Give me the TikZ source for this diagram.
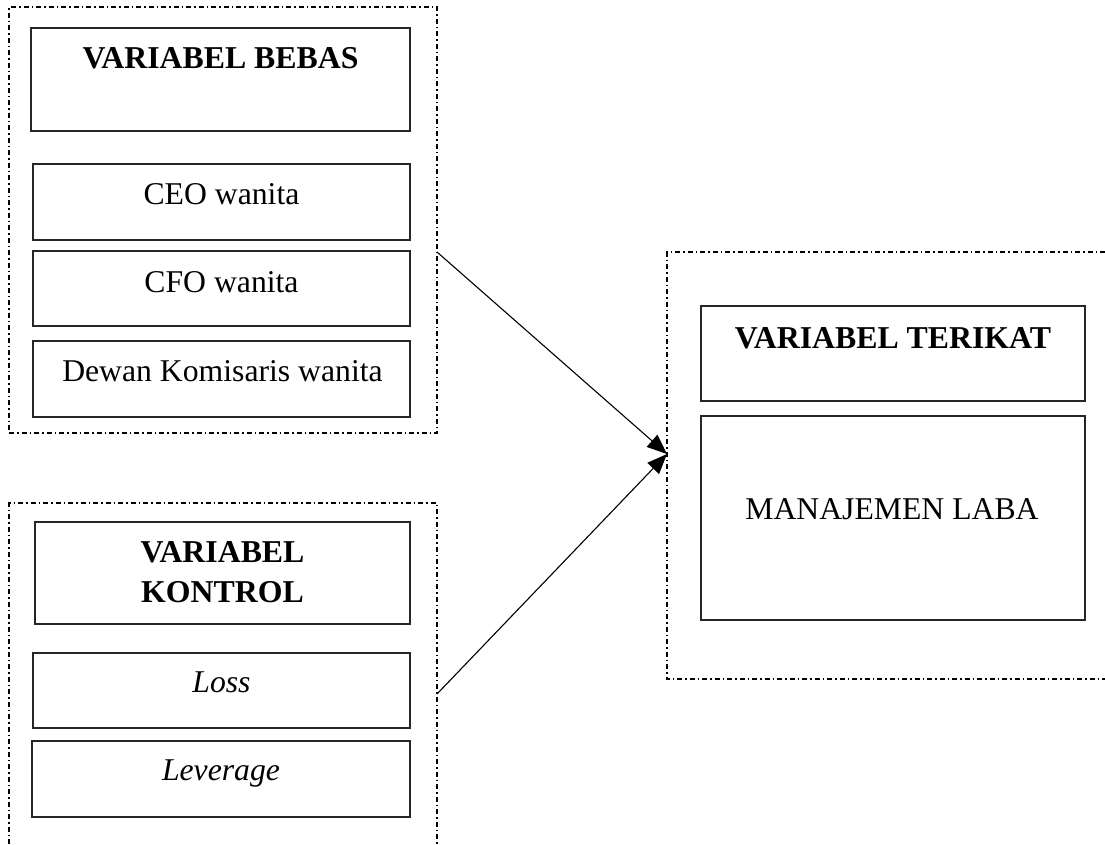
\documentclass[tikz,border=0pt]{standalone}
\usepackage{fontspec}
\setmainfont{Liberation Serif}
\usetikzlibrary{arrows.meta,fit}
\begin{document}
\begin{tikzpicture}[x=1pt,y=-1pt,
  solidbox/.style={draw=black!85, line width=1.2pt, inner sep=0pt, outer sep=0pt},
  dashbox/.style={draw=black, line width=1.1pt, dash pattern=on 5pt off 3pt on 1.5pt off 3pt},
  lbl/.style={anchor=base, inner sep=0pt, font=\fontsize{31.7}{40}\selectfont},
  blbl/.style={anchor=base, inner sep=0pt, font=\fontsize{31.8}{40}\selectfont\bfseries},
  ilbl/.style={anchor=base, inner sep=0pt, font=\fontsize{31.7}{40}\selectfont\itshape},
  conn/.style={draw=black, line width=1.1pt, -{Triangle[length=20pt,width=16pt]}}]
\useasboundingbox[fill=white] (0,0) rectangle (1105,844);

% outer dash-dot groups
\node[dashbox, inner sep=0pt, outer sep=0pt, fit={(9,7) (437,433)}] (outer1) {};
\coordinate (o2a) at (9,844);
\coordinate (o2b) at (9,503);
\coordinate (o2c) at (437,503);
\coordinate (o2d) at (437,844);
\draw[dashbox] (o2a) -- (o2b) -- (o2c) -- (o2d);
\coordinate (o3a) at (1105,252);
\coordinate (o3b) at (667,252);
\coordinate (o3c) at (667,679);
\coordinate (o3d) at (1105,679);
\draw[dashbox] (o3a) -- (o3b) -- (o3c) -- (o3d);

% left upper group
\node[solidbox, fit={(31,28) (410,131)}] (bebas) {};
\node[blbl] (bebast) at (220.5,68) {VARIABEL BEBAS};
\node[solidbox, fit={(33,164) (410,240)}] (ceo) {};
\node[lbl] (ceot) at (221.5,204) {CEO wanita};
\node[solidbox, fit={(33,251) (410,326)}] (cfo) {};
\node[lbl] (cfot) at (221.5,292) {CFO wanita};
\node[solidbox, fit={(33,341) (410,417)}] (dewan) {};
\node[lbl] (dewant) at (222.5,381) {Dewan Komisaris wanita};

% left lower group
\node[solidbox, fit={(35,522) (410,624)}] (kontrol) {};
\node[blbl] (kontrolt1) at (222.5,562) {VARIABEL};
\node[blbl] (kontrolt2) at (222.5,602) {KONTROL};
\node[solidbox, fit={(33,653) (410,728)}] (loss) {};
\node[ilbl] (losst) at (221.5,692) {Loss};
\node[solidbox, fit={(32,741) (410,817)}] (leverage) {};
\node[ilbl] (leveraget) at (221,780) {Leverage};

% right group
\node[solidbox, fit={(701,306) (1085,401)}] (terikat) {};
\node[blbl] (terikatt) at (893,348) {VARIABEL TERIKAT};
\node[solidbox, fit={(701,416) (1085,620)}] (laba) {};
\node[lbl] (labat) at (892,519) {MANAJEMEN LABA};

% connectors
\coordinate (s1) at (437,252);
\coordinate (s2) at (437,694);
\coordinate (t1) at (667,454);
\draw[conn] (s1) -- (t1);
\draw[conn] (s2) -- (t1);
\end{tikzpicture}
\end{document}
